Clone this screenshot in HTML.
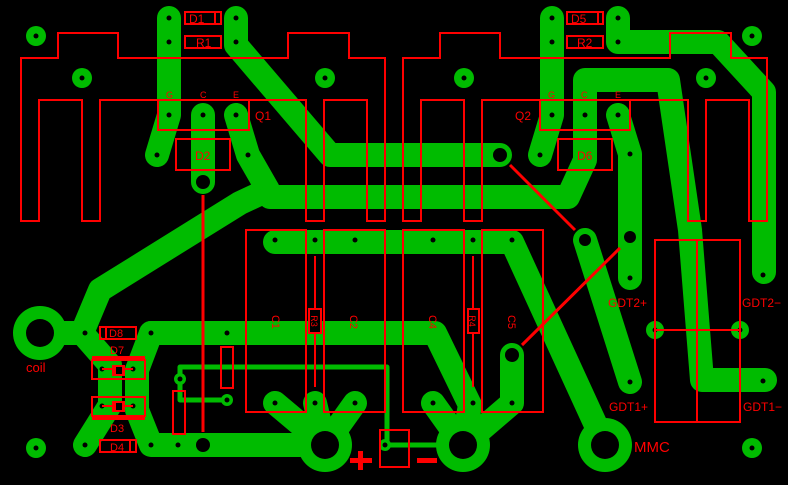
<!DOCTYPE html>
<html><head><style>body{margin:0;background:#000}svg{display:block}text{font-family:"Liberation Sans",sans-serif;fill:#f00}</style></head><body>
<svg width="788" height="485" viewBox="0 0 788 485" xmlns="http://www.w3.org/2000/svg">
<rect width="788" height="485" fill="#000"/>
<g fill="none" stroke="#00bb00" stroke-linecap="round" stroke-linejoin="round">
<g stroke-width="24">
<path d="M169,18V115L157,155"/>
<path d="M203,115V182"/>
<path d="M236,18V45L330,155H500"/>
<path d="M236,115L248,155L268,190L240,203L100,290L82,333L110,365V405L85,445"/>
<path d="M270,197H568L585,160V80H668L690,230L702,380H765"/>
<path d="M552,18V115L540,155"/>
<path d="M618,115L630,154V278"/>
<path d="M618,18V42H718L764,92V272"/>
<path d="M275,242H512L605,445"/>
<path d="M585,240L630,382"/>
<path d="M151,333L137,370V410L151,445H325"/>
<path d="M151,333H435L470,405L463,445"/>
<path d="M40,333H82"/>
<path d="M275,403L325,445M315,403L325,445M355,403L325,445"/>
<path d="M433,403L463,445M512,355V403L463,445"/>
</g>
<path d="M180,378V367H387V445H463M180,378V400H227" stroke-width="5"/>
</g>
<g fill="#00bb00">
<circle cx="40" cy="333" r="27"/><circle cx="325" cy="445" r="27"/><circle cx="463" cy="445" r="27"/><circle cx="605" cy="445" r="27"/>
<circle cx="36" cy="36" r="10"/><circle cx="82" cy="78" r="10"/><circle cx="325" cy="78" r="10"/><circle cx="464" cy="78" r="10"/><circle cx="706" cy="78" r="10"/><circle cx="752" cy="36" r="10"/><circle cx="36" cy="448" r="10"/><circle cx="752" cy="448" r="10"/>
<circle cx="655" cy="330" r="9"/><circle cx="740" cy="330" r="9"/>
<circle cx="180" cy="379" r="6"/><circle cx="227" cy="400" r="6"/>
<circle cx="385" cy="445" r="6"/>
</g>
<g fill="#000">
<circle cx="40" cy="333" r="14"/><circle cx="325" cy="445" r="14"/><circle cx="463" cy="445" r="14"/><circle cx="605" cy="445" r="14"/>
<circle cx="203" cy="182" r="7"/><circle cx="500" cy="155" r="7"/><circle cx="512" cy="355" r="7"/><circle cx="203" cy="445" r="7"/><circle cx="630" cy="237" r="6"/><circle cx="585" cy="240" r="6"/>
<circle cx="169" cy="18" r="2.5"/><circle cx="169" cy="42" r="2.5"/><circle cx="169" cy="115" r="2.5"/><circle cx="157" cy="155" r="2.5"/><circle cx="236" cy="18" r="2.5"/><circle cx="236" cy="42" r="2.5"/><circle cx="203" cy="115" r="2.5"/><circle cx="236" cy="115" r="2.5"/><circle cx="248" cy="155" r="2.5"/>
<circle cx="552" cy="18" r="2.5"/><circle cx="552" cy="42" r="2.5"/><circle cx="552" cy="115" r="2.5"/><circle cx="540" cy="155" r="2.5"/><circle cx="618" cy="18" r="2.5"/><circle cx="618" cy="42" r="2.5"/><circle cx="585" cy="115" r="2.5"/><circle cx="618" cy="115" r="2.5"/><circle cx="630" cy="154" r="2.5"/>
<circle cx="36" cy="36" r="2.5"/><circle cx="82" cy="78" r="2.5"/><circle cx="325" cy="78" r="2.5"/><circle cx="464" cy="78" r="2.5"/><circle cx="706" cy="78" r="2.5"/><circle cx="752" cy="36" r="2.5"/><circle cx="36" cy="448" r="2.5"/><circle cx="752" cy="448" r="2.5"/>
<circle cx="275" cy="240" r="2.5"/><circle cx="315" cy="240" r="2.5"/><circle cx="355" cy="240" r="2.5"/><circle cx="433" cy="240" r="2.5"/><circle cx="473" cy="240" r="2.5"/><circle cx="512" cy="240" r="2.5"/>
<circle cx="275" cy="403" r="2.5"/><circle cx="315" cy="403" r="2.5"/><circle cx="355" cy="403" r="2.5"/><circle cx="433" cy="403" r="2.5"/><circle cx="473" cy="403" r="2.5"/><circle cx="512" cy="403" r="2.5"/>
<circle cx="630" cy="278" r="2.5"/><circle cx="630" cy="382" r="2.5"/><circle cx="763" cy="275" r="2.5"/><circle cx="763" cy="381" r="2.5"/><circle cx="655" cy="330" r="2.5"/><circle cx="740" cy="330" r="2.5"/>
<circle cx="85" cy="333" r="2.5"/><circle cx="151" cy="333" r="2.5"/><circle cx="85" cy="445" r="2.5"/><circle cx="151" cy="445" r="2.5"/><circle cx="178" cy="445" r="2.5"/><circle cx="227" cy="333" r="2.5"/>
<circle cx="102" cy="369" r="2.5"/><circle cx="133" cy="369" r="2.5"/><circle cx="102" cy="406" r="2.5"/><circle cx="133" cy="406" r="2.5"/>
<circle cx="180" cy="379" r="2.5"/><circle cx="227" cy="400" r="2.5"/><circle cx="385" cy="445" r="2.5"/>
</g>
<g fill="none" stroke="#f00" stroke-width="1.6" shape-rendering="crispEdges">
<path d="M21,58H58V33H118V58H288V33H349V58H385V221H367V100H324V221H306V100H100V221H82V100H39V221H21Z"/>
<path transform="translate(382,0)" d="M21,58H58V33H118V58H288V33H349V58H385V221H367V100H324V221H306V100H100V221H82V100H39V221H21Z"/>
<rect x="158" y="100" width="91" height="30"/><rect x="176" y="139" width="54" height="31"/>
<rect x="185" y="12" width="36" height="12"/><path d="M215,12V24"/><rect x="185" y="36" width="36" height="12"/>
<rect x="540" y="100" width="90" height="30"/><rect x="558" y="139" width="54" height="31"/>
<rect x="567" y="12" width="36" height="12"/><path d="M598,12V24"/><rect x="567" y="36" width="36" height="12"/>
<rect x="246" y="230" width="60" height="182"/><rect x="324" y="230" width="61" height="182"/>
<rect x="403" y="230" width="61" height="182"/><rect x="482" y="230" width="61" height="182"/>
<path d="M315,256V387M473,256V387"/>
<rect x="309" y="309" width="12" height="24" fill="#000"/><rect x="468" y="309" width="11" height="24" fill="#000"/>
<rect x="655" y="240" width="85" height="182"/><path d="M697,240V422M655,330H740"/>
<rect x="100" y="327" width="36" height="12"/><path d="M106,327V339"/>
<rect x="100" y="440" width="36" height="12"/><path d="M130,440V452"/>
<rect x="92" y="360" width="53" height="19"/><rect x="92" y="397" width="53" height="19"/>
<rect x="221" y="347" width="12" height="41"/><rect x="173" y="391" width="12" height="43"/>
<rect x="380" y="430" width="29" height="37"/>
<path d="M102,369H133M102,406H133"/>
</g>
<g fill="#f00">
<rect x="92" y="356" width="53" height="5"/><rect x="92" y="415" width="53" height="5"/>
<rect x="112" y="365" width="13" height="11"/><rect x="112" y="401" width="13" height="11"/>
<rect x="201.5" y="195" width="3" height="237"/>
<rect x="350" y="458" width="22" height="5"/><rect x="358" y="451" width="5" height="19"/>
<rect x="417" y="458" width="20" height="5"/>
</g>
<g fill="#000"><rect x="116" y="367" width="6" height="7"/><rect x="116" y="403" width="6" height="7"/></g>
<g stroke="#f00" stroke-width="3"><path d="M510,165L575,230M620,248L522,345"/></g>
<g font-size="12">
<text x="189" y="23">D1</text><text x="196" y="47">R1</text><text x="571" y="23">D5</text><text x="577" y="47">R2</text>
<text x="195" y="160">D2</text><text x="577" y="160">D6</text>
<text x="255" y="120">Q1</text><text x="515" y="120">Q2</text>
<text x="109" y="337" font-size="11">D8</text><text x="110" y="451" font-size="11">D4</text>
<text x="110" y="354" font-size="11">D7</text><text x="110" y="432" font-size="11">D3</text>
<text x="26" y="372" font-size="13">coil</text>
<text x="634" y="452" font-size="15">MMC</text>
<text x="608" y="307">GDT2+</text><text x="742" y="307">GDT2−</text>
<text x="609" y="411">GDT1+</text><text x="743" y="411">GDT1−</text>
</g>
<g font-size="9"><text x="166" y="98">G</text><text x="200" y="98">C</text><text x="233" y="98">E</text><text x="548" y="98">G</text><text x="581" y="98">C</text><text x="615" y="98">E</text></g>
<g font-size="11">
<text transform="translate(272,322) rotate(90)" text-anchor="middle">C1</text>
<text transform="translate(350,322) rotate(90)" text-anchor="middle">C2</text>
<text transform="translate(429,322) rotate(90)" text-anchor="middle">C4</text>
<text transform="translate(508,322) rotate(90)" text-anchor="middle">C5</text>
<text transform="translate(311,321) rotate(90)" text-anchor="middle" font-size="9">R3</text>
<text transform="translate(469,321) rotate(90)" text-anchor="middle" font-size="9">R4</text>
</g>
</svg>
</body></html>
